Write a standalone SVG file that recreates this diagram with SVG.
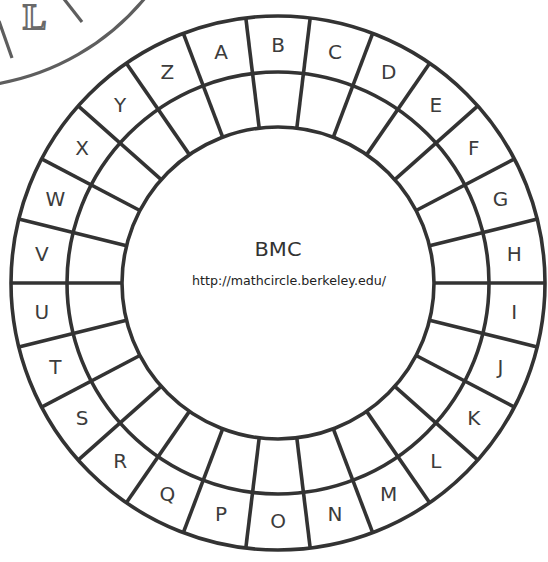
<svg xmlns="http://www.w3.org/2000/svg" width="548" height="562" viewBox="0 0 548 562">
<defs>
<style>
.ring{fill:none;stroke:#333333;stroke-width:3.6}
.sp{stroke:#333333;stroke-width:3.6}
.lt{font-family:"DejaVu Sans","Liberation Sans",sans-serif;font-size:20px;fill:#3c3c3c;text-anchor:middle}
.bg{fill:none;stroke:#5e5e5e;stroke-width:3.2}
</style>
</defs>
<rect width="548" height="562" fill="#ffffff"/>
<g id="other-wheel">
<path class="bg" d="M -4 84 A 245.7 245.7 0 0 0 145 -2"/>
<line class="bg" x1="-1" y1="21" x2="12" y2="58"/>
<line class="bg" x1="64" y1="-1" x2="82" y2="22"/>
<text x="23" y="29" font-family="Liberation Serif,serif" font-weight="bold" font-size="35" fill="#ffffff" stroke="#6a6a6a" stroke-width="2">L</text>
</g>
<g id="wheel" transform="translate(278,283)">
<g id="connectors">
<circle class="ring" r="267"/>
<circle class="ring" r="211"/>
<circle class="ring" r="156"/>
<line class="sp" x1="156" x2="267" transform="rotate(0)"/>
<line class="sp" x1="156" x2="267" transform="rotate(13.846)"/>
<line class="sp" x1="156" x2="267" transform="rotate(27.692)"/>
<line class="sp" x1="156" x2="267" transform="rotate(41.538)"/>
<line class="sp" x1="156" x2="267" transform="rotate(55.385)"/>
<line class="sp" x1="156" x2="267" transform="rotate(69.231)"/>
<line class="sp" x1="156" x2="267" transform="rotate(83.077)"/>
<line class="sp" x1="156" x2="267" transform="rotate(96.923)"/>
<line class="sp" x1="156" x2="267" transform="rotate(110.769)"/>
<line class="sp" x1="156" x2="267" transform="rotate(124.615)"/>
<line class="sp" x1="156" x2="267" transform="rotate(138.462)"/>
<line class="sp" x1="156" x2="267" transform="rotate(152.308)"/>
<line class="sp" x1="156" x2="267" transform="rotate(166.154)"/>
<line class="sp" x1="156" x2="267" transform="rotate(180)"/>
<line class="sp" x1="156" x2="267" transform="rotate(193.846)"/>
<line class="sp" x1="156" x2="267" transform="rotate(207.692)"/>
<line class="sp" x1="156" x2="267" transform="rotate(221.538)"/>
<line class="sp" x1="156" x2="267" transform="rotate(235.385)"/>
<line class="sp" x1="156" x2="267" transform="rotate(249.231)"/>
<line class="sp" x1="156" x2="267" transform="rotate(263.077)"/>
<line class="sp" x1="156" x2="267" transform="rotate(276.923)"/>
<line class="sp" x1="156" x2="267" transform="rotate(290.769)"/>
<line class="sp" x1="156" x2="267" transform="rotate(304.615)"/>
<line class="sp" x1="156" x2="267" transform="rotate(318.462)"/>
<line class="sp" x1="156" x2="267" transform="rotate(332.308)"/>
<line class="sp" x1="156" x2="267" transform="rotate(346.154)"/>
</g>
<g id="letters">
<g id="A" transform="rotate(-103.846) translate(238,0) rotate(103.846)"><text class="lt" y="7">A</text></g>
<g id="B" transform="rotate(-90) translate(238,0) rotate(90)"><text class="lt" y="7">B</text></g>
<g id="C" transform="rotate(-76.154) translate(238,0) rotate(76.154)"><text class="lt" y="7">C</text></g>
<g id="D" transform="rotate(-62.308) translate(238,0) rotate(62.308)"><text class="lt" y="7">D</text></g>
<g id="E" transform="rotate(-48.462) translate(238,0) rotate(48.462)"><text class="lt" y="7">E</text></g>
<g id="F" transform="rotate(-34.615) translate(238,0) rotate(34.615)"><text class="lt" y="7">F</text></g>
<g id="G" transform="rotate(-20.769) translate(238,0) rotate(20.769)"><text class="lt" y="7">G</text></g>
<g id="H" transform="rotate(-6.923) translate(238,0) rotate(6.923)"><text class="lt" y="7">H</text></g>
<g id="I" transform="rotate(6.923) translate(238,0) rotate(-6.923)"><text class="lt" y="7">I</text></g>
<g id="J" transform="rotate(20.769) translate(238,0) rotate(-20.769)"><text class="lt" y="7">J</text></g>
<g id="K" transform="rotate(34.615) translate(238,0) rotate(-34.615)"><text class="lt" y="7">K</text></g>
<g id="L" transform="rotate(48.462) translate(238,0) rotate(-48.462)"><text class="lt" y="7">L</text></g>
<g id="M" transform="rotate(62.308) translate(238,0) rotate(-62.308)"><text class="lt" y="7">M</text></g>
<g id="N" transform="rotate(76.154) translate(238,0) rotate(-76.154)"><text class="lt" y="7">N</text></g>
<g id="O" transform="rotate(90) translate(238,0) rotate(-90)"><text class="lt" y="7">O</text></g>
<g id="P" transform="rotate(103.846) translate(238,0) rotate(-103.846)"><text class="lt" y="7">P</text></g>
<g id="Q" transform="rotate(117.692) translate(238,0) rotate(-117.692)"><text class="lt" y="7">Q</text></g>
<g id="R" transform="rotate(131.538) translate(238,0) rotate(-131.538)"><text class="lt" y="7">R</text></g>
<g id="S" transform="rotate(145.385) translate(238,0) rotate(-145.385)"><text class="lt" y="7">S</text></g>
<g id="T" transform="rotate(159.231) translate(238,0) rotate(-159.231)"><text class="lt" y="7">T</text></g>
<g id="U" transform="rotate(173.077) translate(238,0) rotate(-173.077)"><text class="lt" y="7">U</text></g>
<g id="V" transform="rotate(186.923) translate(238,0) rotate(-186.923)"><text class="lt" y="7">V</text></g>
<g id="W" transform="rotate(200.769) translate(238,0) rotate(-200.769)"><text class="lt" y="7">W</text></g>
<g id="X" transform="rotate(214.615) translate(238,0) rotate(-214.615)"><text class="lt" y="7">X</text></g>
<g id="Y" transform="rotate(228.462) translate(238,0) rotate(-228.462)"><text class="lt" y="7">Y</text></g>
<g id="Z" transform="rotate(242.308) translate(238,0) rotate(-242.308)"><text class="lt" y="7">Z</text></g>
</g>
</g>
<g id="center-label">
<text x="278" y="256" font-family="DejaVu Sans,sans-serif" font-size="19" fill="#333" text-anchor="middle" textLength="47" lengthAdjust="spacingAndGlyphs">BMC</text>
<text x="289" y="285" font-family="DejaVu Sans,sans-serif" font-size="11.5" fill="#222" text-anchor="middle" textLength="194" lengthAdjust="spacingAndGlyphs">http://mathcircle.berkeley.edu/</text>
</g>
</svg>
